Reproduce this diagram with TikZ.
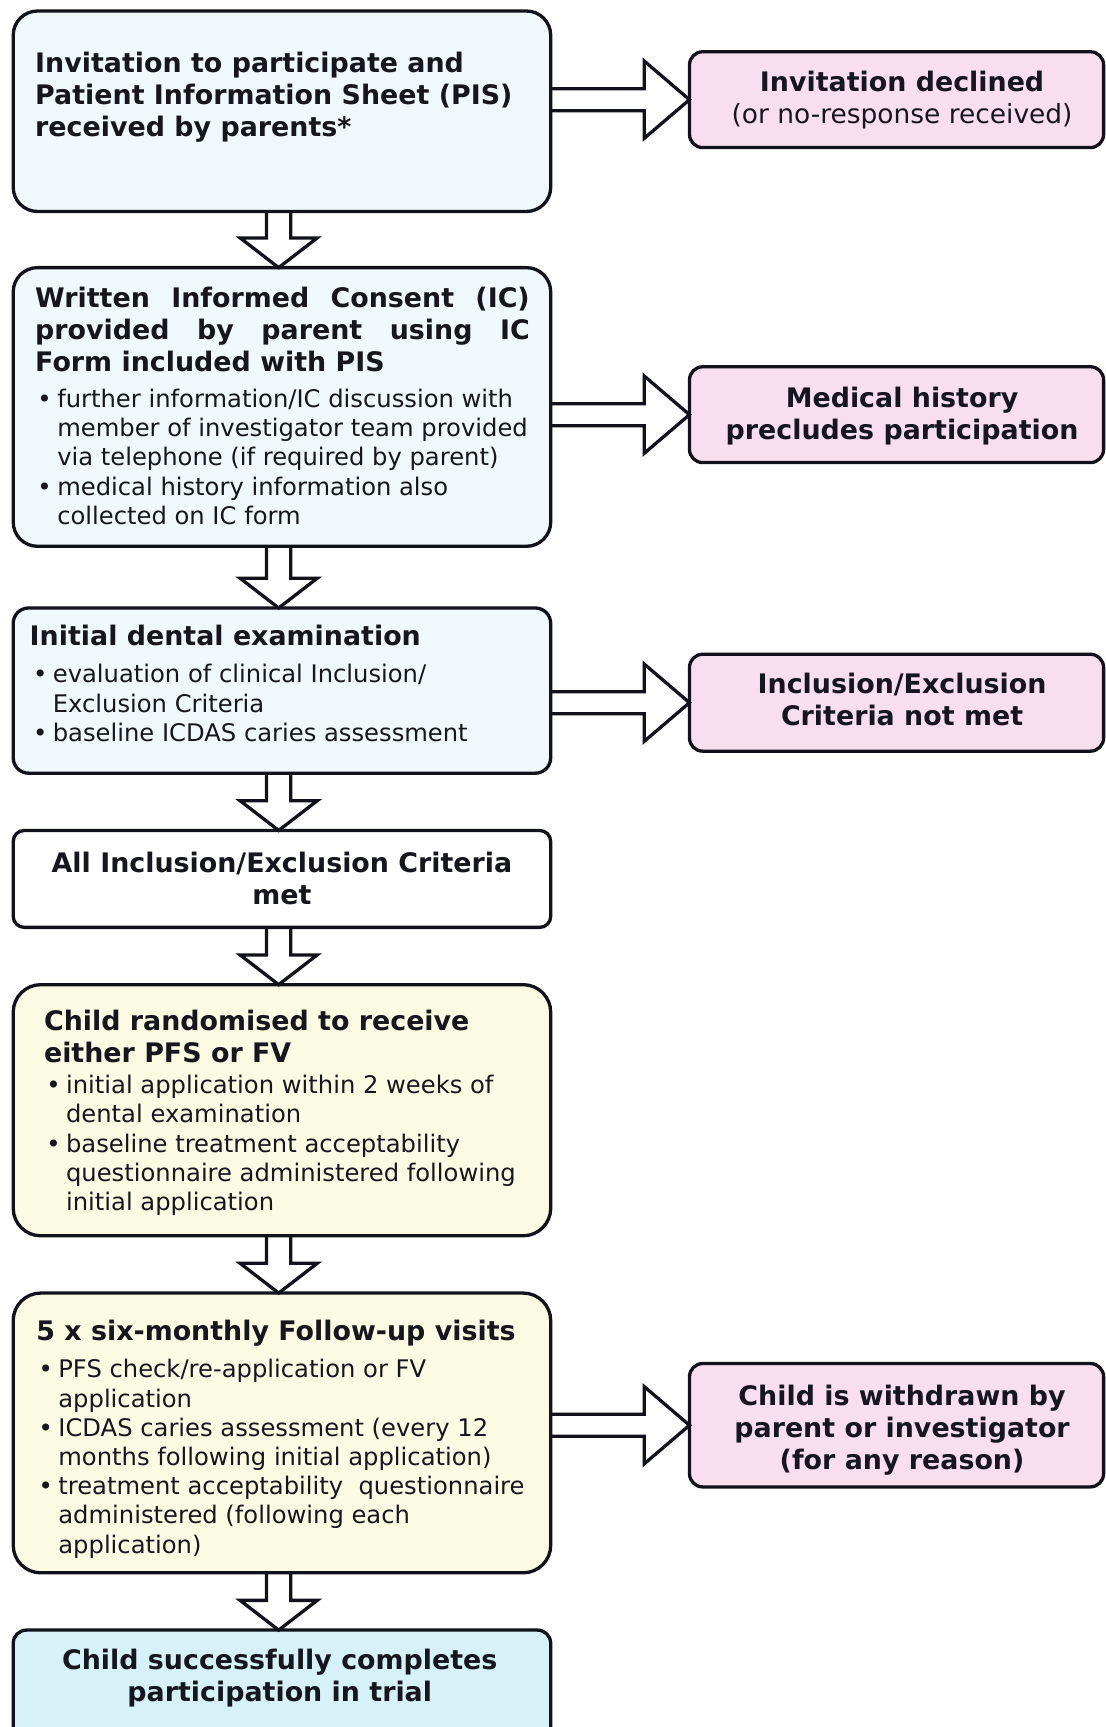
\documentclass[tikz,border=0pt]{standalone}
\usepackage{fontspec}
\setmainfont{DejaVu Sans}
\usetikzlibrary{calc}
\definecolor{edge}{RGB}{18,18,28}
\definecolor{ink}{RGB}{22,22,30}
\definecolor{bluefill}{RGB}{239,248,251}
\definecolor{pinkfill}{RGB}{249,222,238}
\definecolor{yellowfill}{RGB}{251,251,228}
\definecolor{cyanfill}{RGB}{214,241,248}
\newcommand{\hd}{\fontsize{24.4}{29}\selectfont\bfseries}
\newcommand{\bd}{\fontsize{22}{26.5}\selectfont}
\newcommand{\bul}{\makebox[18pt][l]{•}}
\newcommand{\ind}{\hspace*{18pt}}
\newcommand{\flowdown}[2]{\draw[blockarrow] ($(#1.south)+(-14,0)$) -- ($(#2.north)+(-14,-27)$) -- ($(#2.north)+(-38,-27)$) -- ($(#2.north)+(-3,0)$) -- ($(#2.north)+(32,-27)$) -- ($(#2.north)+(8,-27)$) -- ($(#1.south)+(8,0)$);}
\newcommand{\flowright}[2]{\draw[blockarrow] ($(#1.east |- #2.west)+(0,-10)$) -- ($(#2.west)+(-41,-10)$) -- ($(#2.west)+(-41,-35)$) -- (#2.west) -- ($(#2.west)+(-41,35)$) -- ($(#2.west)+(-41,10)$) -- ($(#1.east |- #2.west)+(0,10)$);}
\begin{document}
\begin{tikzpicture}[x=1pt,y=-1pt,
  box/.style={draw=edge, line width=3pt, rectangle, outer sep=0pt, inner sep=0pt},
  leftbox/.style={box, minimum width=488pt},
  rightbox/.style={box, fill=pinkfill, rounded corners=12pt, minimum width=376pt},
  txt/.style={inner sep=0pt, outer sep=0pt, text=ink, anchor=north west},
  ctxt/.style={inner sep=0pt, outer sep=0pt, text=ink, anchor=north},
  blockarrow/.style={draw=edge, line width=3pt, line join=miter}
]
\useasboundingbox (0,0) rectangle (1004,1568);
\fill[white] (0,0) rectangle (1004,1568);

% left column boxes
\node[leftbox, fill=bluefill, rounded corners=22pt, minimum height=182pt] (b1) at (256,101) {};
\node[leftbox, fill=bluefill, rounded corners=22pt, minimum height=253pt] (b2) at (256,369.5) {};
\node[leftbox, fill=bluefill, rounded corners=14pt, minimum height=150pt] (b3) at (256,627) {};
\node[leftbox, fill=white, rounded corners=10pt, minimum height=88pt] (b4) at (256,798) {};
\node[leftbox, fill=yellowfill, rounded corners=25pt, minimum height=228pt] (b5) at (256,1008) {};
\node[leftbox, fill=yellowfill, rounded corners=25pt, minimum height=254pt] (b6) at (256,1301) {};
\node[leftbox, fill=cyanfill, rounded corners=12pt, minimum height=100pt] (b7) at (256,1530) {};

% right column boxes
\node[rightbox, minimum height=87pt] (r1) at (814,90.5) {};
\node[rightbox, minimum height=87pt] (r2) at (814,376.5) {};
\node[rightbox, minimum height=88pt] (r3) at (814,638) {};
\node[rightbox, minimum height=112pt] (r4) at (814,1294) {};

% texts
\node[txt] (t1) at (32,45.7) {\hd\begin{tabular}{@{}l@{}}Invitation to participate and\\Patient Information Sheet (PIS)\\received by parents*\end{tabular}};

\node[txt] (t2h) at (32,258.7) {\hd\begin{tabular}{@{}l@{}}\makebox[449pt][s]{Written Informed Consent (IC)}\\\makebox[449pt][s]{provided by parent using IC}\\Form included with PIS\end{tabular}};
\node[txt] (t2b) at (34,351.5) {\bd\begin{tabular}{@{}l@{}}\bul further information/IC discussion with\\\ind member of investigator team provided\\\ind via telephone (if required by parent)\\\bul medical history information also\\\ind collected on IC form\end{tabular}};

\node[txt] (t3h) at (27,565.7) {\hd\begin{tabular}{@{}l@{}}Initial dental examination\end{tabular}};
\node[txt] (t3b) at (30,601.5) {\bd\begin{tabular}{@{}l@{}}\bul evaluation of clinical Inclusion/\\\ind Exclusion Criteria\\\bul baseline ICDAS caries assessment\end{tabular}};

\node[ctxt] (t4) at (256,771.7) {\hd\begin{tabular}{@{}c@{}}All Inclusion/Exclusion Criteria\\met\end{tabular}};

\node[txt] (t5h) at (40,915.7) {\hd\begin{tabular}{@{}l@{}}Child randomised to receive\\either PFS or FV\end{tabular}};
\node[txt] (t5b) at (42,974.5) {\bd\begin{tabular}{@{}l@{}}\bul initial application within 2 weeks of\\\ind dental examination\\\bul baseline treatment acceptability\\\ind questionnaire administered following\\\ind initial application\end{tabular}};

\node[txt] (t6h) at (33,1196.7) {\hd\begin{tabular}{@{}l@{}}5 x six-monthly Follow-up visits\end{tabular}};
\node[txt] (t6b) at (35,1232.5) {\bd\begin{tabular}{@{}l@{}}\bul PFS check/re-application or FV\\\ind application\\\bul ICDAS caries assessment (every 12\\\ind months following initial application)\\\bul treatment acceptability\ \ questionnaire\\\ind administered (following each\\\ind application)\end{tabular}};

\node[ctxt] (t7) at (254,1495.7) {\hd\begin{tabular}{@{}c@{}}Child successfully completes\\participation in trial\end{tabular}};

\node[ctxt] (tr1) at (819,62.7) {\hd\begin{tabular}{@{}c@{}}Invitation declined\\{\mdseries\fontsize{24}{29}\selectfont (or no-response received)}\end{tabular}};
\node[ctxt] (tr2) at (819,349.7) {\hd\begin{tabular}{@{}c@{}}Medical history\\precludes participation\end{tabular}};
\node[ctxt] (tr3) at (819,609.7) {\hd\begin{tabular}{@{}c@{}}Inclusion/Exclusion\\Criteria not met\end{tabular}};
\node[ctxt] (tr4) at (819,1255.7) {\hd\begin{tabular}{@{}c@{}}Child is withdrawn by\\parent or investigator\\(for any reason)\end{tabular}};

% connectors
\flowdown{b1}{b2}
\flowdown{b2}{b3}
\flowdown{b3}{b4}
\flowdown{b4}{b5}
\flowdown{b5}{b6}
\flowdown{b6}{b7}
\flowright{b1}{r1}
\flowright{b2}{r2}
\flowright{b3}{r3}
\flowright{b6}{r4}
\end{tikzpicture}
\end{document}
